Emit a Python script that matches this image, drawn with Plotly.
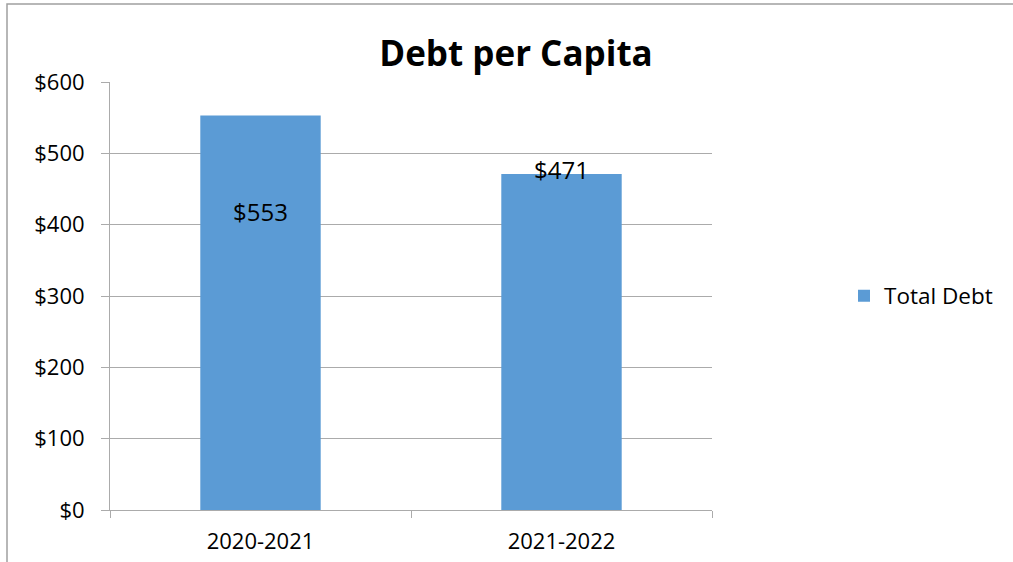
import plotly.graph_objects as go

categories = ["2020-2021", "2021-2022"]
values = [553, 471]
labels = ["$553", "$471"]
series_name = "Total Debt"
title = "Debt per Capita"

FONT = "Open Sans"
GRID = "#ababab"

fig = go.Figure()
fig.add_trace(go.Bar(
    x=categories, y=values, name=series_name,
    marker=dict(color="#5b9bd5", line=dict(width=0)),
    showlegend=True,
))

# data labels
label_anchor = ["middle", "bottom"]
for c, v, t, a in zip(categories, values, labels, label_anchor):
    fig.add_annotation(x=c, y=v, text=t, showarrow=False, yshift=-96 if a == "middle" else -14,
                       yanchor=a, font=dict(family=FONT, size=24, color="black"))

fig.update_layout(
    width=1013, height=562,
    margin=dict(l=110, r=301, t=82, b=52, autoexpand=False),
    paper_bgcolor="white", plot_bgcolor="white",
    bargap=0.6,
    title=dict(text="<b>" + title + "</b>", x=(516 - 110) / 602, xanchor="center", y=0.905, yanchor="middle",
               xref="paper", font=dict(family=FONT, size=35, color="black")),
    legend=dict(x=(844 - 110) / 602, xanchor="left", y=0.5, yanchor="middle",
                font=dict(family=FONT, size=22.5, color="black"), itemwidth=30),
    font=dict(family=FONT),
    shapes=[dict(type="rect", xref="paper", yref="paper",
                 x0=(7 - 110) / 602, x1=(1030 - 110) / 602,
                 y0=-0.2, y1=1 + (82 - 4) / 428,
                 line=dict(color="#a0a0a0", width=1.5), fillcolor="rgba(0,0,0,0)", layer="below")],
)
fig.update_yaxes(range=[0, 600], dtick=100, tickprefix="$", showgrid=True, gridcolor=GRID, gridwidth=1,
                 showline=True, linecolor=GRID, linewidth=1, ticks="outside", ticklen=8, tickcolor=GRID,
                 ticklabelstandoff=12, automargin=False,
                 tickfont=dict(family=FONT, size=22, color="black"), zeroline=False, fixedrange=True)
fig.update_xaxes(showline=True, linecolor=GRID, linewidth=1, ticks="outside", ticklen=7, tickcolor=GRID,
                 tickson="boundaries", ticklabelstandoff=12, automargin=False,
                 tickfont=dict(family=FONT, size=22, color="black"),
                 showgrid=False, fixedrange=True)

fig.write_html("out.html")
